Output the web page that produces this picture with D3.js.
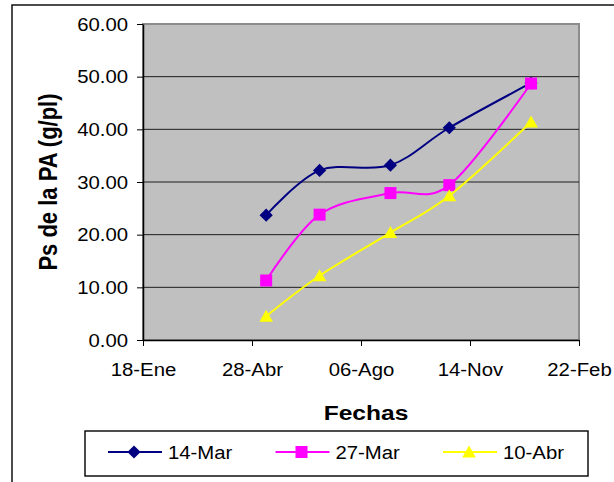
<!DOCTYPE html>
<html>
<head>
<meta charset="utf-8">
<script src="https://cdn.jsdelivr.net/npm/d3@7"></script>
<style>
  html, body { margin: 0; padding: 0; background: #ffffff; }
  svg { display: block; font-family: "Liberation Sans", Arial, sans-serif; }
</style>
</head>
<body>
<svg id="chart" width="614" height="482"></svg>
<script>
// Sampling dates and dry weight of the aerial part (g/plant) per sowing date
const fechas = ["2005-05-11", "2005-06-29", "2005-09-02", "2005-10-26", "2006-01-09"];
const seriesNames = ["14-Mar", "27-Mar", "10-Abr"];
const serie14Mar = [23.7, 32.2, 33.2, 40.3, 48.8];
const serie27Mar = [11.3, 23.8, 27.9, 29.4, 48.7];
const serie10Abr = [4.5, 12.2, 20.4, 27.4, 41.4];
const yTicks = [0, 10, 20, 30, 40, 50, 60];
const xTickDates = ["2005-01-18", "2005-04-28", "2005-08-06", "2005-11-14", "2006-02-22"];
const xTickLabels = ["18-Ene", "28-Abr", "06-Ago", "14-Nov", "22-Feb"];

const parse = d3.utcParse("%Y-%m-%d");
const svg = d3.select("#chart");

const plot = { left: 143, right: 579, top: 24, bottom: 340 };
const sx = 1.13; // horizontal widening of the label type

// outer chart frame
svg.append("rect")
  .attr("x", 12).attr("y", 5).attr("width", 640).attr("height", 520)
  .attr("fill", "#ffffff").attr("stroke", "#000000").attr("stroke-width", 1.4);

const x = d3.scaleUtc()
  .domain([parse(xTickDates[0]), parse(xTickDates[xTickDates.length - 1])])
  .range([plot.left, plot.right]);
const y = d3.scaleLinear().domain([0, 60]).range([plot.bottom, plot.top]);

// plot area
svg.append("rect")
  .attr("x", plot.left).attr("y", plot.top)
  .attr("width", plot.right - plot.left).attr("height", plot.bottom - plot.top)
  .attr("fill", "#c0c0c0").attr("stroke", "#8c8c8c").attr("stroke-width", 2);

// horizontal gridlines
svg.append("g").selectAll("line")
  .data(yTicks.filter(v => v > 0 && v < 60))
  .join("line")
  .attr("x1", plot.left).attr("x2", plot.right)
  .attr("y1", d => y(d)).attr("y2", d => y(d))
  .attr("stroke", "#1e1e1e").attr("stroke-width", 1);

// y axis
const yAxis = svg.append("g")
  .attr("transform", `translate(${plot.left},0)`)
  .call(d3.axisLeft(y).tickValues(yTicks).tickFormat(d3.format(".2f")).tickSize(6).tickSizeOuter(0));
yAxis.select(".domain").attr("stroke", "#000").attr("stroke-width", 1.5);
yAxis.selectAll(".tick line").attr("stroke", "#000");
yAxis.selectAll(".tick text")
  .attr("font-size", 18).attr("fill", "#000")
  .attr("font-family", "Liberation Sans, Arial, sans-serif")
  .attr("x", null).attr("dy", "0.35em")
  .attr("transform", `translate(-15,0) scale(${sx},1)`);

// x axis (date axis, 100-day major unit)
const xAxis = svg.append("g")
  .attr("transform", `translate(0,${plot.bottom})`)
  .call(d3.axisBottom(x).tickValues(xTickDates.map(parse))
    .tickFormat((d, i) => xTickLabels[i]).tickSize(6).tickSizeOuter(0));
xAxis.select(".domain").attr("stroke", "#000").attr("stroke-width", 1.5);
xAxis.selectAll(".tick line").attr("stroke", "#000");
xAxis.selectAll(".tick text")
  .attr("font-size", 18).attr("fill", "#000")
  .attr("font-family", "Liberation Sans, Arial, sans-serif")
  .attr("y", null).attr("dy", "0.71em")
  .attr("transform", `translate(0,23) scale(${sx},1)`);

// axis titles
svg.append("text")
  .attr("transform", `translate(366,420) scale(1.17,1)`)
  .attr("text-anchor", "middle")
  .attr("font-size", 21).attr("font-weight", "bold")
  .text("Fechas");
svg.append("text")
  .attr("transform", `translate(57,182) scale(1.15,1) rotate(-90)`)
  .attr("text-anchor", "middle")
  .attr("font-size", 22).attr("font-weight", "bold")
  .text("Ps de la PA (g/pl)");

// series
const series = [
  { name: seriesNames[0], values: serie14Mar, color: "#000080", marker: "diamond" },
  { name: seriesNames[1], values: serie27Mar, color: "#ff00ff", marker: "square" },
  { name: seriesNames[2], values: serie10Abr, color: "#ffff00", marker: "triangle" }
];

const markerPath = {
  diamond: "M0,-6.6L6.6,0L0,6.6L-6.6,0Z",
  square: "M-6,-6H6V6H-6Z",
  triangle: "M0,-6.5L6.8,5.5L-6.8,5.5Z"
};

const line = d3.line()
  .x((d, i) => x(parse(fechas[i])))
  .y(d => y(d))
  .curve(d3.curveCatmullRom.alpha(0));

series.forEach(s => {
  const g = svg.append("g");
  g.append("path")
    .attr("d", line(s.values))
    .attr("fill", "none").attr("stroke", s.color).attr("stroke-width", 2);
  g.selectAll("path.m")
    .data(s.values)
    .join("path")
    .attr("class", "m")
    .attr("d", markerPath[s.marker])
    .attr("transform", (d, i) => `translate(${x(parse(fechas[i]))},${y(d)})`)
    .attr("fill", s.color);
});

// legend
const legend = svg.append("g");
legend.append("rect")
  .attr("x", 85).attr("y", 431).attr("width", 503).attr("height", 45)
  .attr("fill", "#ffffff").attr("stroke", "#000").attr("stroke-width", 1.4);
series.forEach((s, i) => {
  const lx = 108 + i * 167.5;
  const item = legend.append("g").attr("transform", `translate(${lx},452)`);
  item.append("line").attr("x1", 0).attr("x2", 54).attr("y1", 0).attr("y2", 0)
    .attr("stroke", s.color).attr("stroke-width", 2);
  item.append("path").attr("d", markerPath[s.marker])
    .attr("transform", "translate(26,0)").attr("fill", s.color);
  item.append("text")
    .attr("transform", `translate(60,6.5) scale(${sx},1)`)
    .attr("font-size", 18).attr("fill", "#000")
    .text(s.name);
});
</script>
</body>
</html>
